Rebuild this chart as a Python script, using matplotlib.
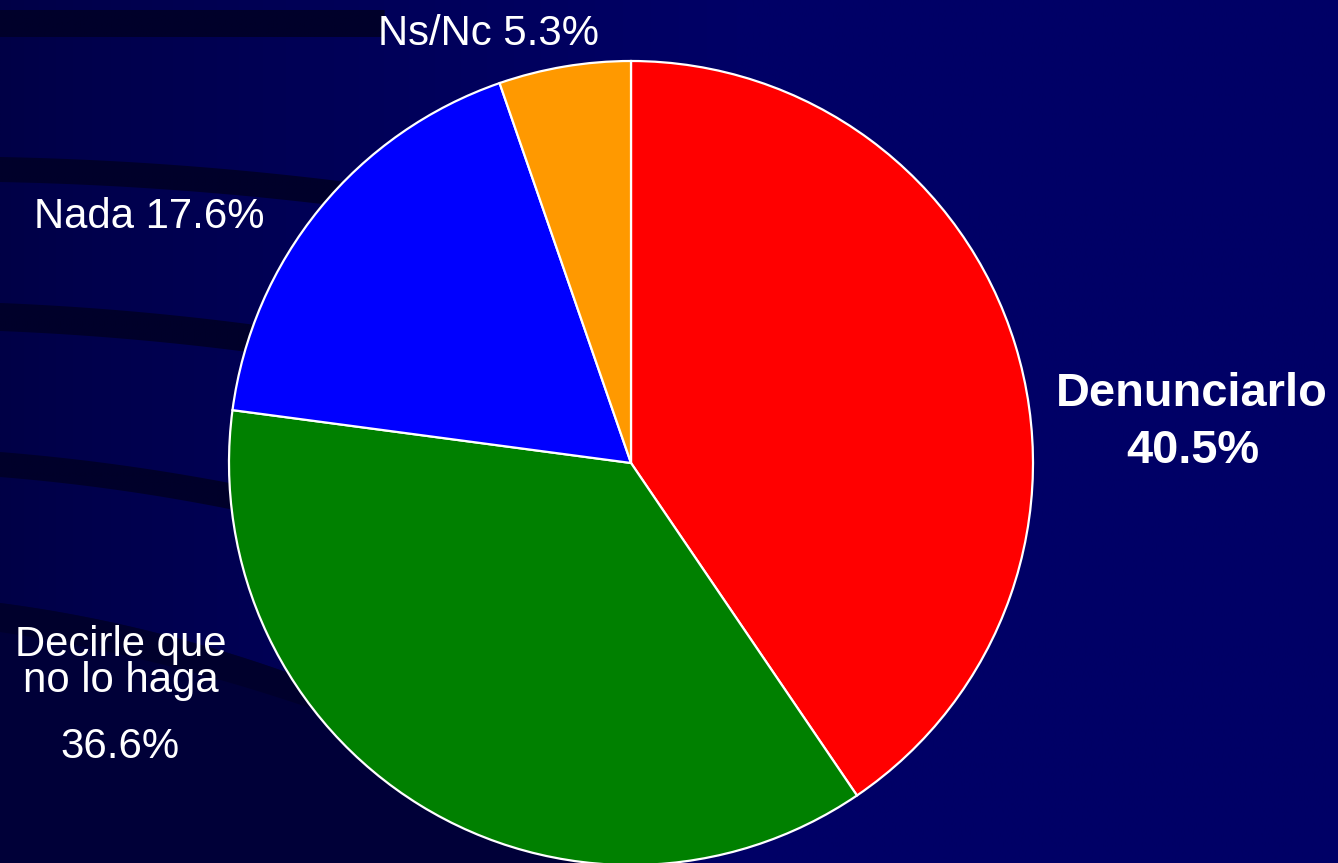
import numpy as np
import matplotlib
matplotlib.use("Agg")
import matplotlib.pyplot as plt
from matplotlib.patches import Polygon
from matplotlib.colors import to_rgb

# Survey answers and their shares (percent)
categories = ["Denunciarlo", "Decirle que no lo haga", "Nada", "Ns/Nc"]
shares = [40.5, 36.6, 17.6, 5.3]
slice_colors = ["#ff0000", "#008000", "#0000ff", "#ff9900"]

W, H = 1338, 863
FONT = "Liberation Sans"

fig = plt.figure(figsize=(W / 100, H / 100), dpi=100)
ax = fig.add_axes([0, 0, 1, 1])
ax.axis("off")

# ---- navy background, darker towards the left edge ----
xs = np.linspace(0, 1, 600)
c_left = np.array(to_rgb("#000046"))
c_right = np.array(to_rgb("#000066"))
t = np.clip(xs / 0.55, 0, 1) ** 0.8
row = c_left[None, :] * (1 - t[:, None]) + c_right[None, :] * t[:, None]
ax.imshow(np.tile(row[None, :, :], (2, 1, 1)), extent=(0, W, 0, H),
          aspect="auto", zorder=0, interpolation="bilinear")


def curve(x, y0, slope, bend):
    return y0 + slope * x + bend * x ** 2


def faded_band(x_end, top, bot, color, fade_from, z=1):
    """Dark curved stripe that fades out towards its right end."""
    x = np.linspace(0, x_end, 120)
    ty, by = top(x), bot(x)
    verts = np.r_[np.c_[x, H - ty], np.c_[x[::-1], H - by[::-1]]]
    poly = Polygon(verts, closed=True, facecolor="none", edgecolor="none")
    ax.add_patch(poly)
    rgba = np.zeros((2, 300, 4))
    rgba[..., :3] = to_rgb(color)
    gx = np.linspace(0, x_end, 300)
    rgba[..., 3] = np.clip((x_end - gx) / max(x_end - fade_from, 1e-6), 0, 1)
    im = ax.imshow(rgba, extent=(0, x_end, H - by.max() - 2, H - ty.min() + 2),
                   aspect="auto", zorder=z, interpolation="bilinear")
    im.set_clip_path(poly)


band_col = "#00002a"
faded_band(386, lambda x: curve(x, 10, 0.0, 0.0), lambda x: curve(x, 37, 0.0, 0.0),
           band_col, 385)
faded_band(420, lambda x: curve(x, 157, 0.02, 1.5e-4), lambda x: curve(x, 182, 0.02, 1.5e-4),
           band_col, 330)
faded_band(330, lambda x: curve(x, 303, 0.04, 1.8e-4), lambda x: curve(x, 331, 0.04, 1.8e-4),
           band_col, 300)
faded_band(320, lambda x: curve(x, 452, 0.08, 2.4e-4), lambda x: curve(x, 477, 0.08, 2.6e-4),
           band_col, 300)

# lower-left dark sweep
xb = np.linspace(0, 700, 200)
ya = curve(xb, 603, 0.13, 3.9e-4)
lower = np.r_[np.c_[xb, H - np.minimum(ya, H + 5)], [[700, -5], [0, -5]]]
ax.add_patch(Polygon(lower, closed=True, facecolor="#000038", edgecolor="none", zorder=1))
yb = curve(xb, 632, 0.15, 3.07e-4)
stripe = np.r_[np.c_[xb, H - np.minimum(ya, H + 5)], np.c_[xb[::-1], H - np.minimum(yb[::-1], H + 5)]]
ax.add_patch(Polygon(stripe, closed=True, facecolor="#00002c", edgecolor="none", zorder=1))

# ---- pie ----
wedges, _ = ax.pie(shares, colors=slice_colors, startangle=90, counterclock=False,
                   center=(631, H - 463), radius=402, frame=False,
                   wedgeprops=dict(edgecolor="white", linewidth=1.6))
for w in wedges:
    w.set_zorder(3)

# ---- labels ----
txt = dict(color="white", family=FONT, ha="center", zorder=4)
ax.text(489, H - 45, f"{categories[3]} {shares[3]}%", fontsize=30.2, va="baseline", **txt)
ax.text(149, H - 228, f"{categories[2]} {shares[2]}%", fontsize=30.2, va="baseline", **txt)
ax.text(121, H - 625, "Decirle que\nno lo haga", fontsize=30.2, va="top",
        linespacing=0.88, multialignment="center", **txt)
ax.text(120, H - 758, f"{shares[1]}%", fontsize=30.2, va="baseline", **txt)
ax.text(1192, H - 406, categories[0], fontsize=33.8, fontweight="bold", va="baseline", **txt)
ax.text(1193, H - 463, f"{shares[0]}%", fontsize=33.8, fontweight="bold", va="baseline", **txt)

ax.set_xlim(0, W)
ax.set_ylim(0, H)
ax.set_aspect("auto")

fig.savefig("out.png", dpi=100, facecolor="#000060")
